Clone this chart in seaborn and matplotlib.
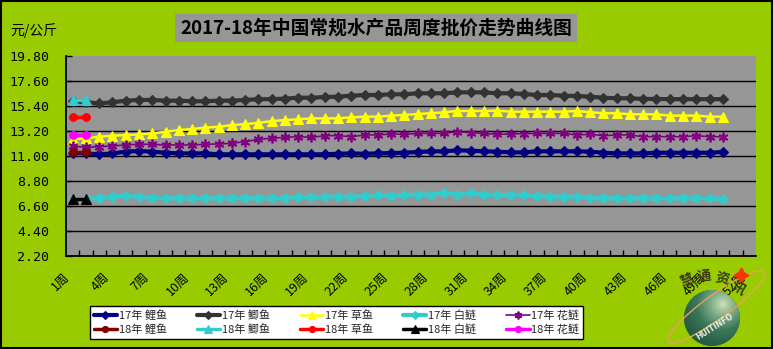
import numpy as np
import pandas as pd
import matplotlib
matplotlib.use("Agg")
import matplotlib.pyplot as plt
import seaborn as sns
from matplotlib.patches import Rectangle, Circle, Ellipse
from matplotlib.colors import LinearSegmentedColormap
from matplotlib.transforms import ScaledTranslation

# ---- data: weekly wholesale prices (元/公斤) ----
weeks_17 = list(range(1, 51))
weeks_18 = [1, 2]

carp_17 = [11.29, 11.23, 11.15, 11.23, 11.38, 11.44, 11.38, 11.29, 11.23, 11.23,
           11.23, 11.15, 11.15, 11.15, 11.15, 11.15, 11.15, 11.15, 11.15, 11.15,
           11.20, 11.23, 11.20, 11.23, 11.26, 11.29, 11.35, 11.41, 11.41, 11.50,
           11.47, 11.41, 11.38, 11.32, 11.32, 11.41, 11.41, 11.41, 11.41, 11.38,
           11.29, 11.23, 11.23, 11.23, 11.29, 11.29, 11.29, 11.29, 11.29, 11.35]
crucian_17 = [15.84, 15.73, 15.63, 15.73, 15.87, 15.93, 15.93, 15.87, 15.87, 15.82,
              15.82, 15.87, 15.87, 15.93, 16.00, 16.00, 16.05, 16.13, 16.13, 16.19,
              16.22, 16.31, 16.37, 16.37, 16.43, 16.43, 16.52, 16.52, 16.52, 16.60,
              16.60, 16.60, 16.52, 16.52, 16.46, 16.37, 16.37, 16.31, 16.28, 16.22,
              16.13, 16.08, 16.08, 16.02, 16.02, 16.00, 16.00, 16.00, 16.00, 16.00]
grass_17 = [12.47, 12.56, 12.70, 12.78, 12.84, 12.90, 12.99, 13.13, 13.28, 13.37,
            13.50, 13.57, 13.72, 13.80, 13.92, 14.07, 14.16, 14.23, 14.31, 14.31,
            14.31, 14.40, 14.46, 14.46, 14.55, 14.61, 14.70, 14.76, 14.85, 14.96,
            14.96, 14.96, 14.99, 14.90, 14.90, 14.90, 14.90, 14.90, 14.96, 14.85,
            14.76, 14.76, 14.67, 14.67, 14.67, 14.55, 14.55, 14.55, 14.46, 14.46]
silver_17 = [7.19, 7.19, 7.33, 7.42, 7.51, 7.42, 7.33, 7.27, 7.27, 7.27,
             7.27, 7.27, 7.27, 7.27, 7.27, 7.27, 7.27, 7.42, 7.36, 7.42,
             7.42, 7.42, 7.45, 7.57, 7.51, 7.57, 7.60, 7.60, 7.71, 7.60,
             7.71, 7.60, 7.57, 7.57, 7.57, 7.48, 7.42, 7.42, 7.42, 7.33,
             7.27, 7.27, 7.27, 7.27, 7.27, 7.27, 7.27, 7.27, 7.27, 7.22]
bighead_17 = [11.88, 11.76, 11.82, 11.88, 11.97, 12.03, 12.03, 11.97, 11.97, 11.97,
              12.03, 12.06, 12.12, 12.26, 12.47, 12.56, 12.64, 12.70, 12.64, 12.79,
              12.79, 12.70, 12.85, 12.85, 12.94, 12.91, 12.99, 12.99, 12.99, 13.14,
              13.05, 12.99, 12.91, 12.94, 12.97, 12.99, 12.99, 12.99, 12.85, 12.91,
              12.79, 12.85, 12.85, 12.70, 12.70, 12.70, 12.70, 12.79, 12.70, 12.70]

carp_18 = [11.38, 11.38]
crucian_18 = [15.93, 15.93]
grass_18 = [14.40, 14.40]
silver_18 = [7.22, 7.22]
bighead_18 = [12.85, 12.85]

week_ticks = [1, 4, 7, 10, 13, 16, 19, 22, 25, 28, 31, 34, 37, 40, 43, 46, 49, 52]
week_labels = ["1周", "4周", "7周", "10周", "13周", "16周", "19周", "22周", "25周",
               "28周", "31周", "34周", "37周", "40周", "43周", "46周", "49周", "52周"]
y_ticks = [2.20, 4.40, 6.60, 8.80, 11.00, 13.20, 15.40, 17.60, 19.80]

# ---- styling ----
sns.set_theme(style="white")
plt.rcParams["font.family"] = ["Noto Sans CJK SC", "DejaVu Sans"]
plt.rcParams["axes.unicode_minus"] = False

W, H = 773, 349
GREEN = "#99CC00"
GRAY = "#969696"

fig = plt.figure(figsize=(W / 100, H / 100), dpi=100)
fig.patch.set_facecolor(GREEN)
ax = fig.add_axes([66 / W, 1 - 256 / H, (756 - 66) / W, 200 / H])
ax.set_facecolor(GRAY)

# label, weeks, values, colour, marker, marker size, line width, zorder
series = [
    ("17年 鲤鱼", weeks_17, carp_17, "#000080", "D", 4.8, 3.0, 3),
    ("17年 鲫鱼", weeks_17, crucian_17, "#333333", "D", 4.8, 3.0, 3),
    ("17年 草鱼", weeks_17, grass_17, "#FFFF00", "^", 7.8, 1.8, 3),
    ("17年 白鲢", weeks_17, silver_17, "#33CCCC", "D", 4.8, 3.0, 3),
    ("17年 花鲢", weeks_17, bighead_17, "#800080", (6, 2, 0), 7.0, 1.2, 3),
    ("18年 鲤鱼", weeks_18, carp_18, "#800000", "o", 5.5, 2.5, 4),
    ("18年 鲫鱼", weeks_18, crucian_18, "#33CCCC", "^", 7.0, 2.5, 4),
    ("18年 草鱼", weeks_18, grass_18, "#FF0000", "o", 5.5, 2.5, 4),
    ("18年 白鲢", weeks_18, silver_18, "#000000", "^", 7.0, 2.5, 4),
    ("18年 花鲢", weeks_18, bighead_18, "#FF00FF", "o", 5.5, 2.5, 4),
]

for label, wk, vals, color, marker, ms, lw, z in series:
    df = pd.DataFrame({"周": np.array(wk) - 1, "价格": vals})
    sns.lineplot(data=df, x="周", y="价格", ax=ax, color=color, marker=marker,
                 markersize=ms, markeredgecolor=color, markerfacecolor=color,
                 markeredgewidth=1.3 if isinstance(marker, tuple) else 0.8,
                 linewidth=lw, label=label, zorder=z)

ax.set_xlabel("")
ax.set_ylabel("")
ax.set_xlim(-0.5, 51.5)
ax.set_ylim(y_ticks[0], y_ticks[-1])

# horizontal grid lines inside the plot area
for v in y_ticks[1:-1]:
    ax.axhline(v, color="black", lw=1.0, zorder=1)

for side in ("top", "right"):
    ax.spines[side].set_visible(False)
for side in ("left", "bottom"):
    ax.spines[side].set_color("black")
    ax.spines[side].set_linewidth(1.3)

ax.set_yticks(y_ticks, [f"{v:.2f}" for v in y_ticks])
ax.tick_params(axis="y", direction="in", length=4, width=1, color="black",
               pad=12, labelsize=9.5, labelcolor="black", left=True)
for lbl in ax.get_yticklabels():
    lbl.set_fontfamily("DejaVu Sans Mono")

# category boundary ticks along the bottom
ax.set_xticks(np.arange(0.5, 51.0, 1.0))
ax.xaxis.set_major_formatter(matplotlib.ticker.NullFormatter())
ax.tick_params(axis="x", which="major", direction="in", length=4, width=1,
               color="black", bottom=True)

# rotated week labels
lab_tr = ax.get_xaxis_transform() + ScaledTranslation(-5 / 100, -19 / 100, fig.dpi_scale_trans)
for w, t in zip(week_ticks, week_labels):
    ax.text(w - 1, 0, t, transform=lab_tr, rotation=45, rotation_mode="anchor",
            ha="right", va="center", fontsize=9, color="black")

# legend
handles, labels = ax.get_legend_handles_labels()
lookup = dict(zip(labels, handles))
order = ["17年 鲤鱼", "18年 鲤鱼", "17年 鲫鱼", "18年 鲫鱼", "17年 草鱼",
         "18年 草鱼", "17年 白鲢", "18年 白鲢", "17年 花鲢", "18年 花鲢"]
ax.legend([lookup[k] for k in order], order, loc="center",
          bbox_to_anchor=((90 + 583) / 2 / W, 1 - 322.5 / H),
          bbox_transform=fig.transFigure, ncol=5, fontsize=8, frameon=True,
          fancybox=False, edgecolor="black", facecolor="white", framealpha=1,
          handlelength=2.1, handletextpad=0.15, columnspacing=2.7,
          borderpad=0.3, labelspacing=0.35, borderaxespad=0, markerscale=0.8)
ax.get_legend().get_frame().set_linewidth(1.0)

fig.text(10 / W, 1 - 31 / H, "元/公斤", fontsize=10, ha="left", va="center", color="black")

# ---- overlay in pixel coordinates: title box, logo, border ----
ov = fig.add_axes([0, 0, 1, 1], zorder=5)
ov.set_axis_off()
ov.patch.set_alpha(0)

ov.add_patch(Rectangle((175, 14), 402, 28, facecolor=GRAY, edgecolor="none"))
ov.text(376, 28, "2017-18年中国常规水产品周度批价走势曲线图", ha="center", va="center",
        fontsize=13.5, fontweight="bold", color="black")

# globe logo
cx, cy, r = 712, 318, 28
globe = Circle((cx, cy), r, facecolor="#2F6B52", edgecolor="none", alpha=0.92, zorder=2)
ov.add_patch(globe)
gx, gy = np.meshgrid(np.linspace(cx - r, cx + r, 120), np.linspace(cy - r, cy + r, 120))
dist = np.hypot(gx - (cx + 11), gy - (cy - 14)) / 52
cmap = LinearSegmentedColormap.from_list("globe", ["#D4E8C0", "#7FAE88", "#3C7A5C", "#2A6048", "#21503C"])
im = ov.imshow(dist, extent=(cx - r, cx + r, cy + r, cy - r), cmap=cmap, vmin=0, vmax=1,
               interpolation="bilinear", aspect="auto", zorder=3, alpha=0.95)
im.set_clip_path(globe)
ov.add_patch(Ellipse((716, 307), 118, 24, angle=-36, facecolor="none",
                     edgecolor="#E8A060", lw=1.0, zorder=4))
ov.plot([741], [275], marker=(4, 1, 0), markersize=11, color="#FF3300", zorder=5)
for ch, x, y, rot in [("慧", 687, 281, 22), ("通", 704, 276, 6), ("资", 722, 278, -12), ("讯", 738, 288, -32)]:
    ov.text(x, y, ch, ha="center", va="center", rotation=rot, fontsize=10,
            color="#3A3A1A", fontweight="bold", zorder=5)
ov.text(715, 327, "HUITINFO", ha="center", va="center", rotation=32, fontsize=5.5,
        color="#E8F0E0", fontweight="bold", family="DejaVu Sans", zorder=5)

ov.add_patch(Rectangle((0.75, 0.75), W - 1.5, H - 1.5, facecolor="none",
                       edgecolor="black", lw=1.5, zorder=6))
ov.set_xlim(0, W)
ov.set_ylim(H, 0)

fig.savefig("out.png", dpi=100, facecolor=fig.get_facecolor())
